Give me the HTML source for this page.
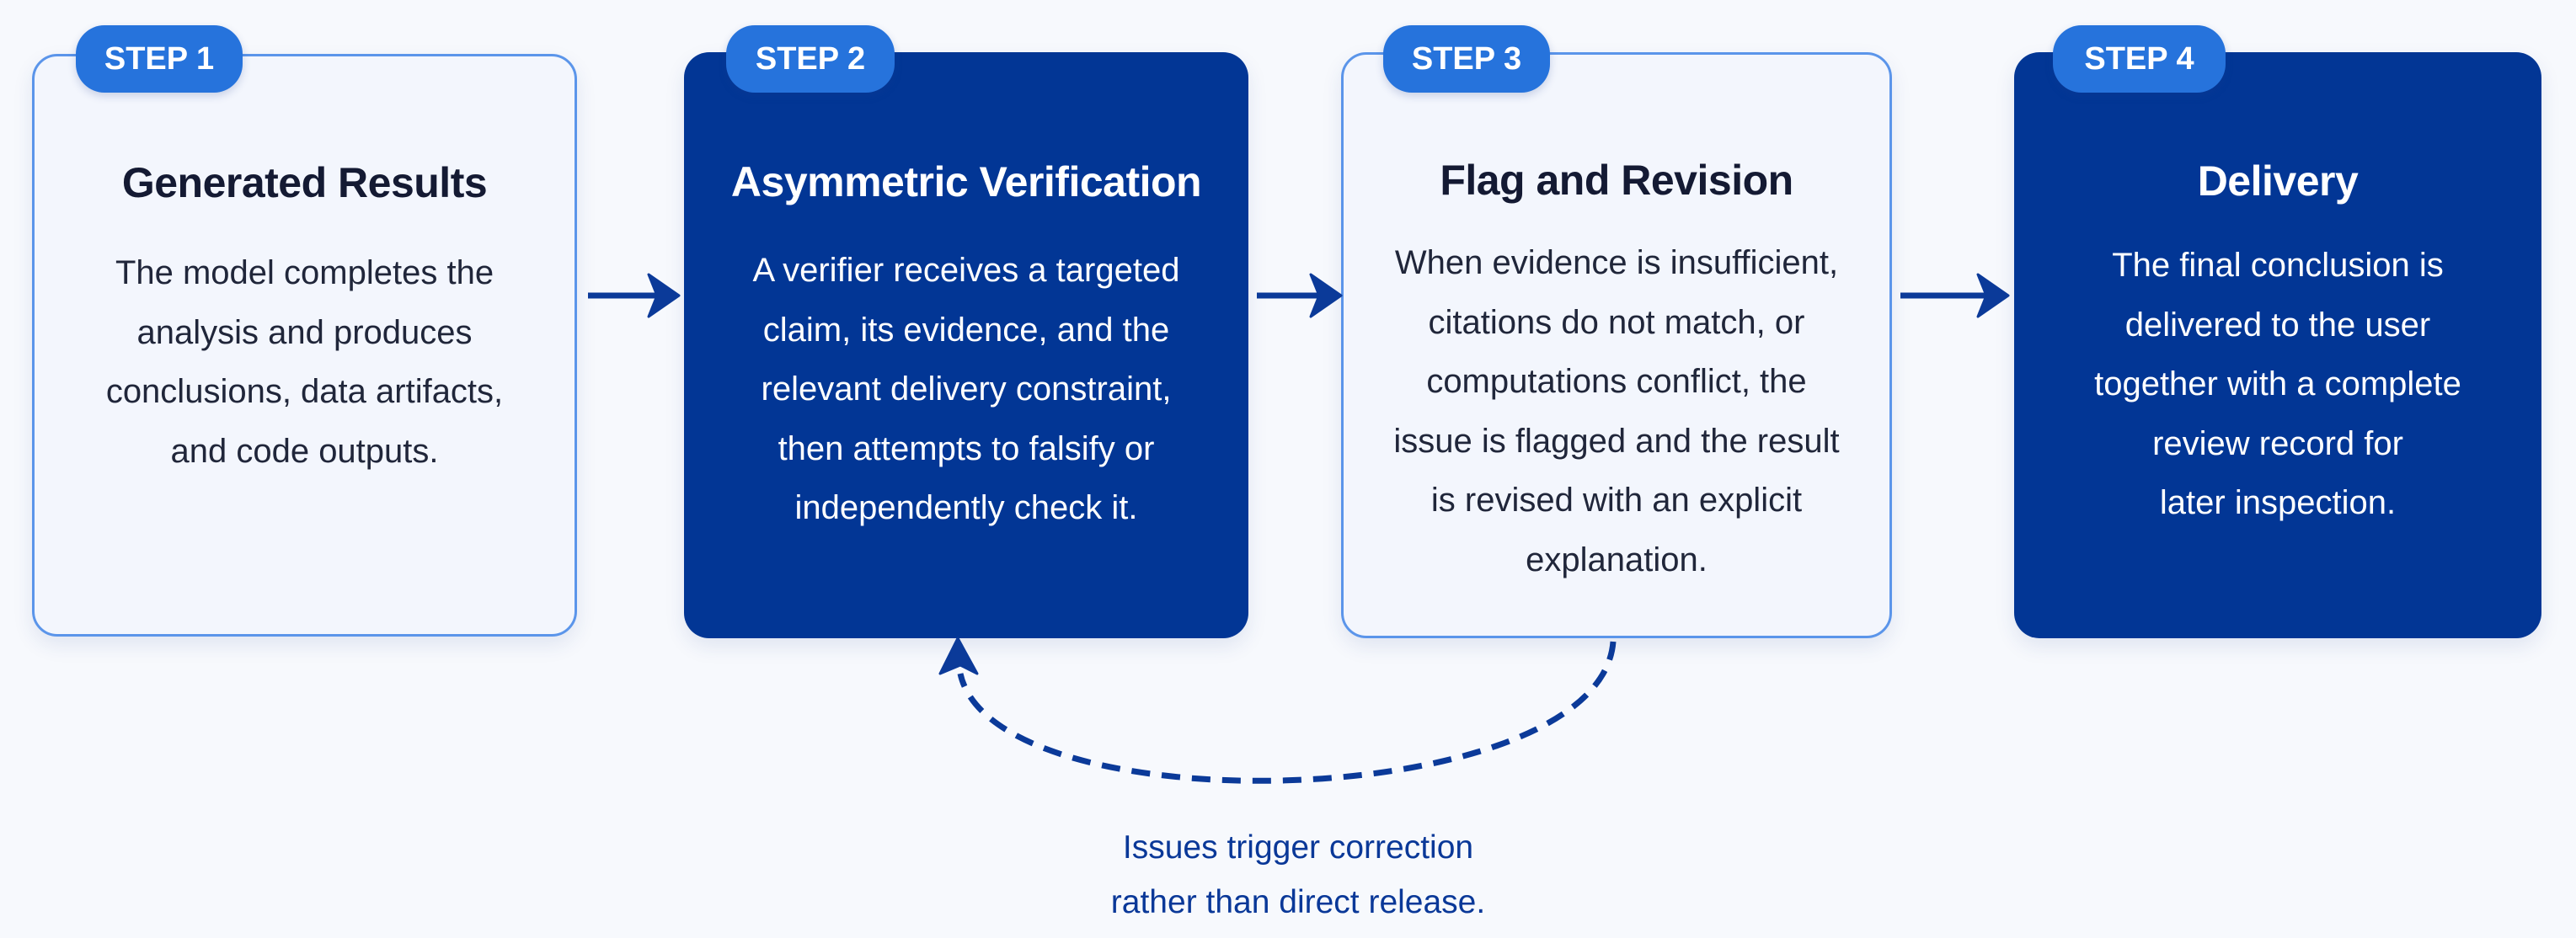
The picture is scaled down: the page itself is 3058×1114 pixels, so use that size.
<!DOCTYPE html>
<html><head><meta charset="utf-8"><style>
html,body{margin:0;padding:0;}
body{width:3058px;height:1114px;background:#f7f9fd;position:relative;overflow:hidden;font-family:"Liberation Sans",sans-serif;}
.box{position:absolute;top:64px;height:692px;border-radius:30px;box-sizing:border-box;text-align:center;box-shadow:0 10px 24px rgba(30,60,140,0.10);}
.light{background:#f3f6fd;border:3px solid #5b95ea;color:#1b2135;}
.dark{background:#023695;color:#fff;}
.badge{position:absolute;top:30px;height:80px;border-radius:34px;background:#2673dc;color:#fff;font-weight:bold;font-size:38px;line-height:80px;text-align:center;box-shadow:0 4px 10px rgba(30,60,140,0.2);}
.title{position:absolute;left:0;right:0;font-weight:bold;font-size:50px;line-height:60px;letter-spacing:-0.5px;}
.light .title{color:#141a33;}
.body{position:absolute;left:0;right:0;font-size:40px;line-height:70.5px;}
.light .body{color:#20263a;}
.lbl{position:absolute;left:1241px;width:600px;text-align:center;color:#0a3898;font-size:39px;line-height:65px;}
</style></head><body>
<div class="box light" style="left:38px;width:647px;">
 <div class="title" style="top:120px;">Generated Results</div>
 <div class="body" style="top:222px;">The model completes the<br>analysis and produces<br>conclusions, data artifacts,<br>and code outputs.</div>
</div>
<div class="box dark" style="left:812px;width:670px;top:62px;height:696px;">
 <div class="title" style="top:124px;">Asymmetric Verification</div>
 <div class="body" style="top:224px;">A verifier receives a targeted<br>claim, its evidence, and the<br>relevant delivery constraint,<br>then attempts to falsify or<br>independently check it.</div>
</div>
<div class="box light" style="left:1592px;width:654px;top:62px;height:696px;">
 <div class="title" style="top:119px;">Flag and Revision</div>
 <div class="body" style="top:212px;">When evidence is insufficient,<br>citations do not match, or<br>computations conflict, the<br>issue is flagged and the result<br>is revised with an explicit<br>explanation.</div>
</div>
<div class="box dark" style="left:2391px;width:626px;top:62px;height:696px;">
 <div class="title" style="top:123px;">Delivery</div>
 <div class="body" style="top:218px;">The final conclusion is<br>delivered to the user<br>together with a complete<br>review record for<br>later inspection.</div>
</div>
<div class="badge" style="left:90px;width:198px;">STEP 1</div>
<div class="badge" style="left:862px;width:200px;">STEP 2</div>
<div class="badge" style="left:1642px;width:198px;">STEP 3</div>
<div class="badge" style="left:2437px;width:205px;">STEP 4</div>
<svg width="3058" height="1114" style="position:absolute;left:0;top:0;">
 <g stroke="#0b3a99" stroke-width="7" fill="#0b3a99">
  <line x1="698" y1="351" x2="790" y2="351"/>
  <path d="M770 326 L806 351 L770 376 L780 351 Z" stroke-width="3" stroke-linejoin="round"/>
  <line x1="1492" y1="351" x2="1576" y2="351"/>
  <path d="M1556 326 L1592 351 L1556 376 L1566 351 Z" stroke-width="3" stroke-linejoin="round"/>
  <line x1="2256" y1="351" x2="2368" y2="351"/>
  <path d="M2348 326 L2384 351 L2348 376 L2358 351 Z" stroke-width="3" stroke-linejoin="round"/>
  <path d="M1915 762 C1900 965 1180 985 1140 800" fill="none" stroke-dasharray="22 14"/>
  <path d="M1137 758 L1116 800 L1140 790 L1160 800 Z" stroke-width="3" stroke-linejoin="round"/>
 </g>
</svg>
<div class="lbl" style="top:974px;">Issues trigger correction</div>
<div class="lbl" style="top:1039px;">rather than direct release.</div>
</body></html>
